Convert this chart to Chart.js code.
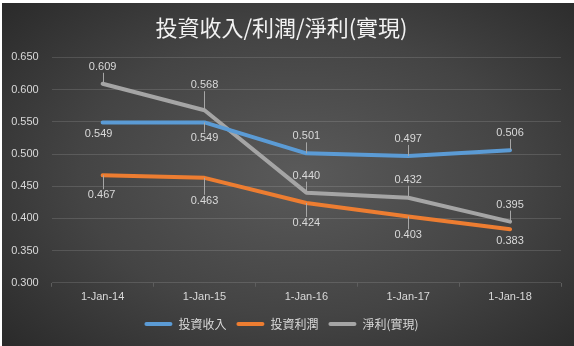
<!DOCTYPE html>
<html>
<head>
<meta charset="utf-8">
<script src="https://cdn.jsdelivr.net/npm/chart.js@4.4.1/dist/chart.umd.min.js"></script>
<style>
  html, body { margin: 0; padding: 0; background: #ffffff; }
  #box {
    position: absolute; left: 2px; top: 3px; width: 572px; height: 343px;
    background: radial-gradient(ellipse 70% 75% at 52% 50%, #5a5a5a 0%, #444444 55%, #2a2a2a 100%);
  }
  canvas { display: block; }
</style>
</head>
<body>
<div id="box"><canvas id="chart" width="572" height="343"></canvas></div>
<script>
// 資料
const years = ['1-Jan-14', '1-Jan-15', '1-Jan-16', '1-Jan-17', '1-Jan-18'];
const income = [0.549, 0.549, 0.501, 0.497, 0.506];
const profit = [0.467, 0.463, 0.424, 0.403, 0.383];
const netProfit = [0.609, 0.568, 0.440, 0.432, 0.395];
const seriesNames = ['投資收入', '投資利潤', '淨利(實現)'];
const chartTitle = '投資收入/利潤/淨利(實現)';

// 資料標籤相對於點的位移 (樣式)
const labelShift = [
    [[-4, 12], [0, 16], [0, -17], [0, -17], [0, -17]],
    [[-1, 20], [0, 23], [0, 20], [0, 19], [0, 12]],
    [[0, -17], [0, -25], [0, -17], [0, -18], [0, -17]]
];

const LINE_COLORS = ['#5b9bd5', '#ed7d31', '#a5a5a5'];
const TEXT = '#d9d9d9';
const CJK = '"Noto Sans CJK TC", "Noto Sans", sans-serif';
const LATIN = '"Liberation Sans", Arial, sans-serif';

// 畫資料標籤與引導線
const valueLabels = {
    id: 'valueLabels',
    afterDatasetsDraw(chart) {
        const ctx = chart.ctx;
        ctx.save();
        ctx.font = '11px ' + LATIN;
        ctx.textAlign = 'center';
        ctx.textBaseline = 'middle';
        chart.data.datasets.forEach((ds, i) => {
            const meta = chart.getDatasetMeta(i);
            meta.data.forEach((pt, j) => {
                const [dx, dy] = labelShift[i][j];
                const lx = pt.x + dx;
                const ly = pt.y + dy;
                if (Math.abs(dy) >= 16) {
                    const edge = dy > 0 ? ly - 6 : ly + 6;
                    ctx.strokeStyle = '#a6a6a6';
                    ctx.lineWidth = 1;
                    ctx.beginPath();
                    ctx.moveTo(Math.round(pt.x) + 0.5, pt.y);
                    ctx.lineTo(Math.round(pt.x) + 0.5, edge);
                    ctx.stroke();
                }
                ctx.fillStyle = TEXT;
                ctx.fillText(ds.data[j].toFixed(3), lx, ly);
            });
        });
        ctx.restore();
    }
};

const makeSet = (label, data, color) => ({
    label: label,
    data: data,
    borderColor: color,
    backgroundColor: color,
    borderWidth: 4,
    borderJoinStyle: 'round',
    borderCapStyle: 'round',
    tension: 0,
    pointRadius: 0,
    pointHoverRadius: 0
});

new Chart(document.getElementById('chart'), {
    type: 'line',
    data: {
        labels: years,
        datasets: [
            makeSet(seriesNames[0], income, LINE_COLORS[0]),
            makeSet(seriesNames[1], profit, LINE_COLORS[1]),
            makeSet(seriesNames[2], netProfit, LINE_COLORS[2])
        ]
    },
    options: {
        responsive: false,
        animation: false,
        layout: {
            padding: { left: 0, right: 13, top: 0, bottom: 6 }
        },
        plugins: {
            title: {
                display: true,
                text: chartTitle,
                color: '#f2f2f2',
                font: { family: CJK, size: 22, weight: 'normal' },
                padding: { top: 11, bottom: 17 }
            },
            legend: {
                position: 'bottom',
                labels: {
                    color: TEXT,
                    font: { family: CJK, size: 12 },
                    boxWidth: 28,
                    boxHeight: 4,
                    padding: 10,
                    useBorderRadius: true,
                    borderRadius: 2,
                    generateLabels(chart) {
                        return Chart.defaults.plugins.legend.labels.generateLabels(chart).map(item => {
                            item.fillStyle = item.strokeStyle;
                            item.lineWidth = 0;
                            return item;
                        });
                    }
                }
            },
            tooltip: { enabled: false }
        },
        scales: {
            x: {
                offset: true,
                grid: {
                    offset: true,
                    drawOnChartArea: false,
                    drawTicks: true,
                    tickLength: 4,
                    color: '#5e5e5e'
                },
                border: { display: false },
                ticks: {
                    color: TEXT,
                    font: { family: LATIN, size: 11 },
                    padding: 4,
                    maxRotation: 0
                }
            },
            y: {
                min: 0.3,
                max: 0.65,
                afterFit(scale) { scale.width = 49.7; },
                grid: {
                    color: 'rgba(255, 255, 255, 0.13)',
                    drawTicks: false
                },
                border: { display: false },
                ticks: {
                    stepSize: 0.05,
                    color: TEXT,
                    font: { family: LATIN, size: 11 },
                    padding: 13,
                    callback: v => v.toFixed(3)
                }
            }
        }
    },
    plugins: [valueLabels]
});
</script>
</body>
</html>
